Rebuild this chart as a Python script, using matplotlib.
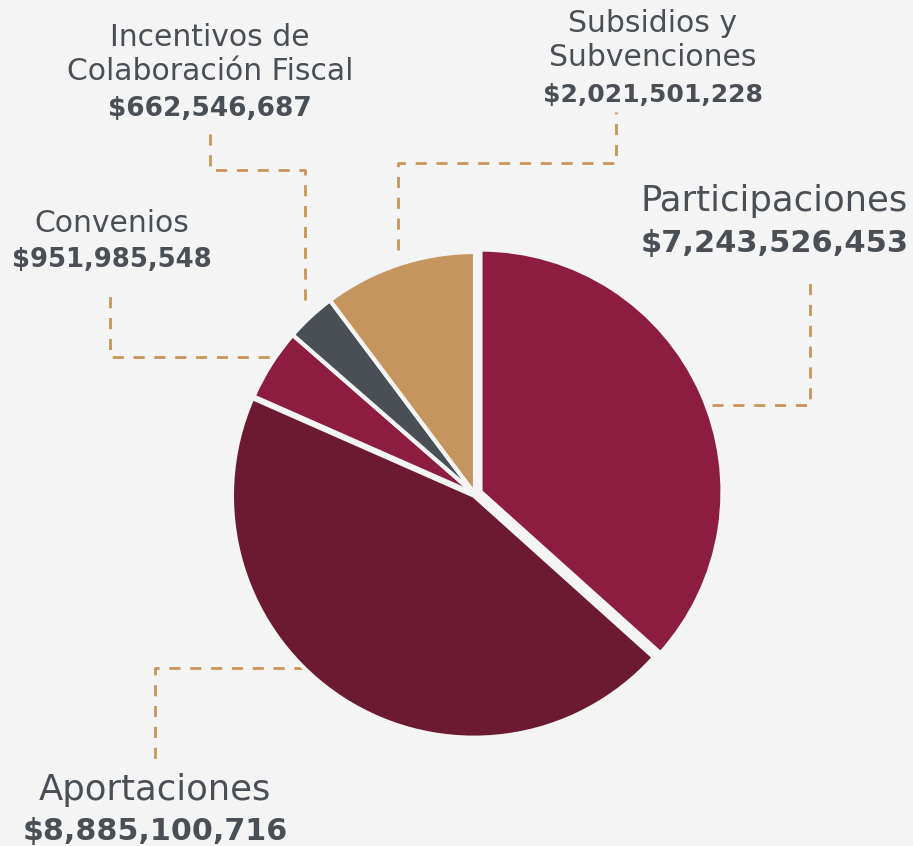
import matplotlib.pyplot as plt

categories = ['Participaciones', 'Aportaciones', 'Convenios',
              'Incentivos de\nColaboración Fiscal', 'Subsidios y\nSubvenciones']
values = [7243526453, 8885100716, 951985548, 662546687, 2021501228]
colors = ['#8c1d40', '#6b1a31', '#8c1d40', '#4a4f55', '#c4955e']
explode = [6, 2, 0, 0, 0]  # offsets in pixels (axes use pixel units)

BG = '#f3f4f3'
TXT = '#4a4f55'
LINE = '#c8955a'
W, H = 913, 846

fig = plt.figure(figsize=(W / 100, H / 100), dpi=100, facecolor=BG)
ax = fig.add_axes([0, 0, 1, 1])
ax.set_facecolor(BG)

ax.pie(values, colors=colors, explode=explode, startangle=90, counterclock=False,
       center=(475, H - 494), radius=242, frame=True,
       wedgeprops=dict(edgecolor=BG, linewidth=3))
ax.set_xlim(0, W)
ax.set_ylim(0, H)
ax.set_aspect('equal')
ax.axis('off')


def leader(xs, ys):
    ax.plot(xs, [H - y for y in ys], color=LINE, lw=2, ls=(0, (4, 3.5)), zorder=0)


# leader lines (image pixel coords)
leader([712, 810, 810], [405, 405, 278])
leader([398, 398, 616, 616], [250, 163, 163, 112])
leader([305, 305, 210, 210], [300, 170, 170, 130])
leader([290, 110, 110], [357, 357, 290])
leader([305, 155, 155], [668, 668, 760])


def label(x, baselines, name, value, size, vsize, ha='center'):
    lines = name.split('\n')
    for line, b in zip(lines, baselines[:-1]):
        ax.text(x, H - b, line, ha=ha, va='baseline', fontsize=size, color=TXT,
                family='DejaVu Sans')
    ax.text(x, H - baselines[-1], '$' + format(value, ','), ha=ha, va='baseline',
            fontsize=vsize, color=TXT, fontweight='bold', family='DejaVu Sans')


label(641, [211, 252], categories[0], values[0], 25.5, 22, ha='left')
label(155, [800, 840], categories[1], values[1], 25.5, 21.7)
label(112, [232, 267], categories[2], values[2], 21.5, 18.6)
label(210, [46, 80, 116], categories[3], values[3], 21.5, 19)
label(653, [32, 66, 102], categories[4], values[4], 21.5, 18)

fig.savefig('out.png', dpi=100, facecolor=BG)
